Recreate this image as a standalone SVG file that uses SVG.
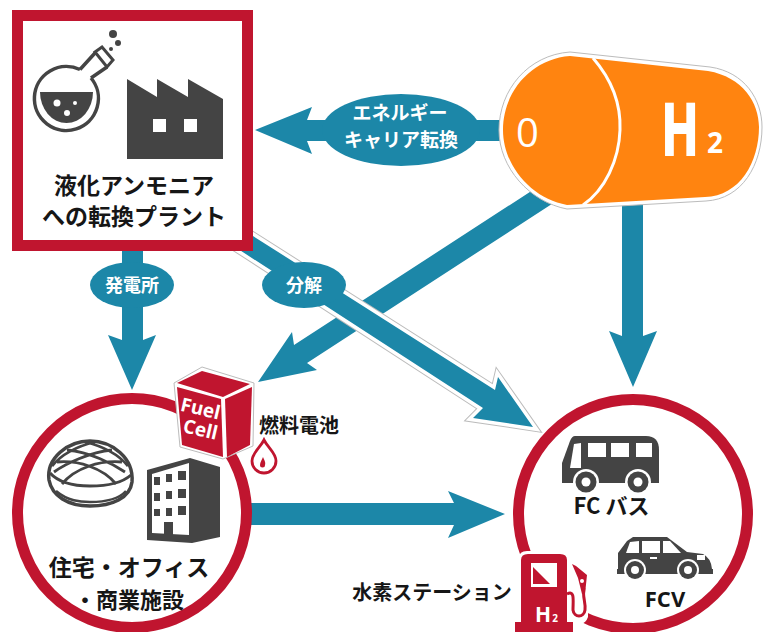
<svg xmlns="http://www.w3.org/2000/svg" width="763" height="632" viewBox="0 0 763 632">
<style>
text{font-family:"Noto Sans CJK JP","Noto Sans",sans-serif;font-weight:700;text-anchor:middle}
.k{fill:#161616}
.w{fill:#fff}
.l{font-family:"Open Sans","Noto Sans",sans-serif;font-weight:700}
.t{fill:#1c87a8}
.d{fill:#444}
.r{fill:#c0152f}
.ol1{fill:none;stroke:#bcbcbc;stroke-width:9;stroke-miterlimit:8}
.ol2{fill:none;stroke:#fff;stroke-width:7;stroke-miterlimit:8}
</style>
<rect width="763" height="632" fill="#fff"/>
<g id="connectors">
<polygon class="t" points="500,120 307,120 312,107 255,130 312,154 307,141 500,141"/>
<ellipse class="t" cx="401" cy="130" rx="79" ry="36"/>
<text class="w" x="400" y="120" font-size="19">エネルギー</text>
<text class="w" x="401" y="147" font-size="19">キャリア転換</text>
<polygon class="t" points="536,188 294,345 292,332 258,382 317,370 307,363 558,200"/>
<polygon class="t" points="622,200 643,200 643,336 657,331 633,387 609,331 622,336"/>
<polygon class="t" points="122,245 143,245 143,340 156,335 132,390 108,335 122,340"/>
<polygon class="t" points="245,503 454,503 448,491 505,514 448,538 454,525 245,525"/>
<polygon class="ol1" points="253,236 495,390 498,377 533,427 473,418 483,408 235,247"/>
<polygon class="ol2" points="253,236 495,390 498,377 533,427 473,418 483,408 235,247"/>
<polygon class="t" points="253,236 495,390 498,377 533,427 473,418 483,408 235,247"/>
<ellipse class="t" cx="132" cy="285" rx="42" ry="23"/>
<text class="w" x="132" y="292" font-size="18">発電所</text>
<ellipse class="t" cx="304" cy="285" rx="42" ry="23"/>
<text class="w" x="304" y="292" font-size="18">分解</text>
</g>
<g id="plant">
<rect x="17.500" y="15.500" width="230" height="230" fill="#fff" stroke="#c0152f" stroke-width="11"/>
<g id="flask">
<path d="M80,69.500L95,53M91,78L107,67M80,69.500A32,32 0 1 0 91,78" fill="none" stroke="#444" stroke-width="3.500"/>
<polygon points="95,52 102,47 113,60 107,67" fill="#fff" stroke="#444" stroke-width="3"/>
<path class="d" d="M40,92H93A26.500,31 0 0 1 40,92Z"/>
<circle class="w" cx="57" cy="103" r="3.500"/>
<circle class="w" cx="75" cy="103" r="2"/>
<circle class="w" cx="67" cy="113" r="3"/>
<circle class="d" cx="113" cy="34" r="4"/>
<circle class="d" cx="118" cy="43" r="3"/>
<circle class="d" cx="111" cy="49" r="2"/>
</g>
<g id="factory">
<polygon class="d" points="127,79 157,97 157,79 188,97 188,79 223,99 223,159 127,159"/>
<rect class="w" x="153" y="119" width="13" height="13"/>
<rect class="w" x="184" y="119" width="13" height="13"/>
</g>
<text class="k" x="134" y="194" font-size="23">液化アンモニア</text>
<text class="k" x="134" y="225" font-size="23">への転換プラント</text>
</g>
<g id="hydrogen-tank">
<path d="M570,52L710,67C745,72 762,100 762,127C762,165 742,199 706,201L567,209C530,202 499,168 499,130C499,90 528,55 570,52Z" fill="#fff" stroke="#bcbcbc" stroke-width="1"/>
<path d="M570,56L708,71C743,77 759,103 759,127C759,162 740,196 705,197L567,205C532,199 503,166 503,130C503,92 531,59 570,56Z" fill="#ff8410"/>
<path d="M593,58C612,80 621,105 620,130C619,160 605,190 583,205" fill="none" stroke="#fff" stroke-width="3"/>
<text class="w" x="527.500" y="147" font-size="40" style="font-family:'Open Sans',sans-serif;font-weight:400">0</text>
<text class="l w" transform="translate(680,155) scale(0.82,1.2)" font-size="60" stroke="#fff" stroke-width="1.500">H</text>
<text class="l w" x="715" y="153" font-size="28">2</text>
</g>
<g id="homes-offices">
<circle cx="132" cy="513" r="114.500" fill="#fff" stroke="#c0152f" stroke-width="11"/>
<g id="dome" fill="none" stroke="#444">
<path d="M49,480C46,458 68,441 90,441C112,441 134,458 132,482C130,498 112,506 90,506C68,506 52,496 49,480Z" stroke-width="3.500"/>
<path d="M50,473C60,484 75,486 90,486C108,486 122,483 131,475" stroke-width="3"/>
<path d="M56,491C68,501 80,502 90,502C105,502 118,500 126,491" stroke-width="2.500"/>
<path d="M57,462C78,460 103,468 116,484M67,450C90,452 113,464 125,472M85,442C102,446 118,454 128,466M122,462C100,460 75,468 62,484M112,450C90,452 65,464 54,472M95,442C78,446 62,454 52,466" stroke-width="2.800"/>
</g>
<g id="building">
<polygon class="d" points="147,470 190,458 220,467 220,537 192,543 147,540"/>
<polygon class="w" points="152,474 189,463 189,535 152,533"/>
<rect class="d" x="164" y="522" width="9" height="15"/>
<path class="d" d="M154,477h6v8h-6zM166,474h6v8h-6zM178,471h8v9h-8zM154,493h6v8h-6zM166,491h6v8h-6zM178,489h8v9h-8zM154,509h6v7h-6zM166,508h6v8h-6zM178,506h8v9h-8z"/>
</g>
<text class="k" x="129" y="576" font-size="23">住宅・オフィス</text>
<text class="k" x="129" y="608" font-size="22">・商業施設</text>
</g>
<g id="fuel-cell">
<polygon points="202,367 254,383 253,446 223,459 180,447 174,383" fill="#fff" stroke="#bcbcbc" stroke-width="1"/>
<polygon class="r" points="177,383 202,371 250,384 223,397"/>
<polygon class="r" points="177,387 221,399 223,457 182,445"/>
<polygon class="r" points="225,399 252,387 250,445 227,457"/>
<text class="l w" transform="translate(199,415) rotate(13)" font-size="19">Fuel</text>
<text class="l w" transform="translate(199,436) rotate(13)" font-size="19">Cell</text>
<text class="k" x="299" y="433" font-size="20">燃料電池</text>
<path d="M264,440C268,448 276,453 276,461A12,12 0 1 1 252,461C252,453 260,448 264,440Z" fill="#fff" stroke="#c0152f" stroke-width="2.800"/>
<path class="r" d="M263,457C264,460 266,462 265,465A2.500,2.500 0 0 1 260,465C260,462 262,460 263,457Z"/>
</g>
<g id="fc-vehicles">
<circle cx="633" cy="514" r="114.500" fill="#fff" stroke="#c0152f" stroke-width="11"/>
<g id="bus">
<path class="d" d="M575,436H646Q659,436 659,450V483H562V463L570,441Q572,436 575,436Z"/>
<polygon class="w" points="570,468 574,444 581,443 581,468"/>
<rect class="w" x="588" y="443" width="18" height="14"/>
<rect class="w" x="611" y="443" width="18" height="14"/>
<rect class="w" x="636" y="443" width="16" height="14"/>
<circle class="w" cx="586" cy="482" r="13"/><circle class="d" cx="586" cy="482" r="10.500"/><circle class="w" cx="586" cy="482" r="4.500"/>
<circle class="w" cx="638" cy="482" r="13"/><circle class="d" cx="638" cy="482" r="10.500"/><circle class="w" cx="638" cy="482" r="4.500"/>
</g>
<text class="k" x="611.500" y="514" font-size="22">FC バス</text>
<g id="car">
<path class="d" d="M633,537H667L687,552L703,554Q711,558 712,569H713V574H617V569H618V553L627,541Z"/>
<polygon class="w" points="626,553 630,542 639,541 639,553"/>
<rect class="w" x="642" y="541" width="18" height="12"/>
<polygon class="w" points="663,541 670,541 681,553 663,553"/>
<rect class="w" x="697" y="555" width="8" height="5"/>
<rect class="w" x="650" y="557" width="7" height="2"/>
<circle class="w" cx="635" cy="570" r="11"/><circle class="d" cx="635" cy="570" r="9"/><circle class="w" cx="635" cy="570" r="4"/>
<circle class="w" cx="688" cy="570" r="11"/><circle class="d" cx="688" cy="570" r="9"/><circle class="w" cx="688" cy="570" r="4"/>
</g>
<text class="l k" x="665" y="607" font-size="22">FCV</text>
</g>
<g id="station">
<path d="M519,632V558Q519,551 527,551H561Q569,551 569,558V590L576,592V560L592,575L588,598V617Q584,628 574,620L574,632Z" fill="#fff"/>
<path class="r" d="M521,632V560Q521,554 528,554H560Q567,554 567,560V632Z"/>
<rect class="r" x="515" y="622" width="58" height="10"/>
<rect class="w" x="531" y="563" width="26" height="24"/>
<polygon class="r" points="533,567 533,584 550,584"/>
<text class="l w" x="543" y="622" font-size="21">H</text>
<text class="l w" x="555" y="622" font-size="10">2</text>
<path d="M567,594C575,590 573,600 573,610C574,618 584,618 585,610C586,602 582,596 584,588" fill="none" stroke="#c0152f" stroke-width="3"/>
<path class="r" d="M572,564L576,566L587,575L585,594H582L578,578Z"/>
<circle class="w" cx="582" cy="581" r="2"/>
<text class="k" x="432" y="600" font-size="20">水素ステーション</text>
</g>
</svg>
